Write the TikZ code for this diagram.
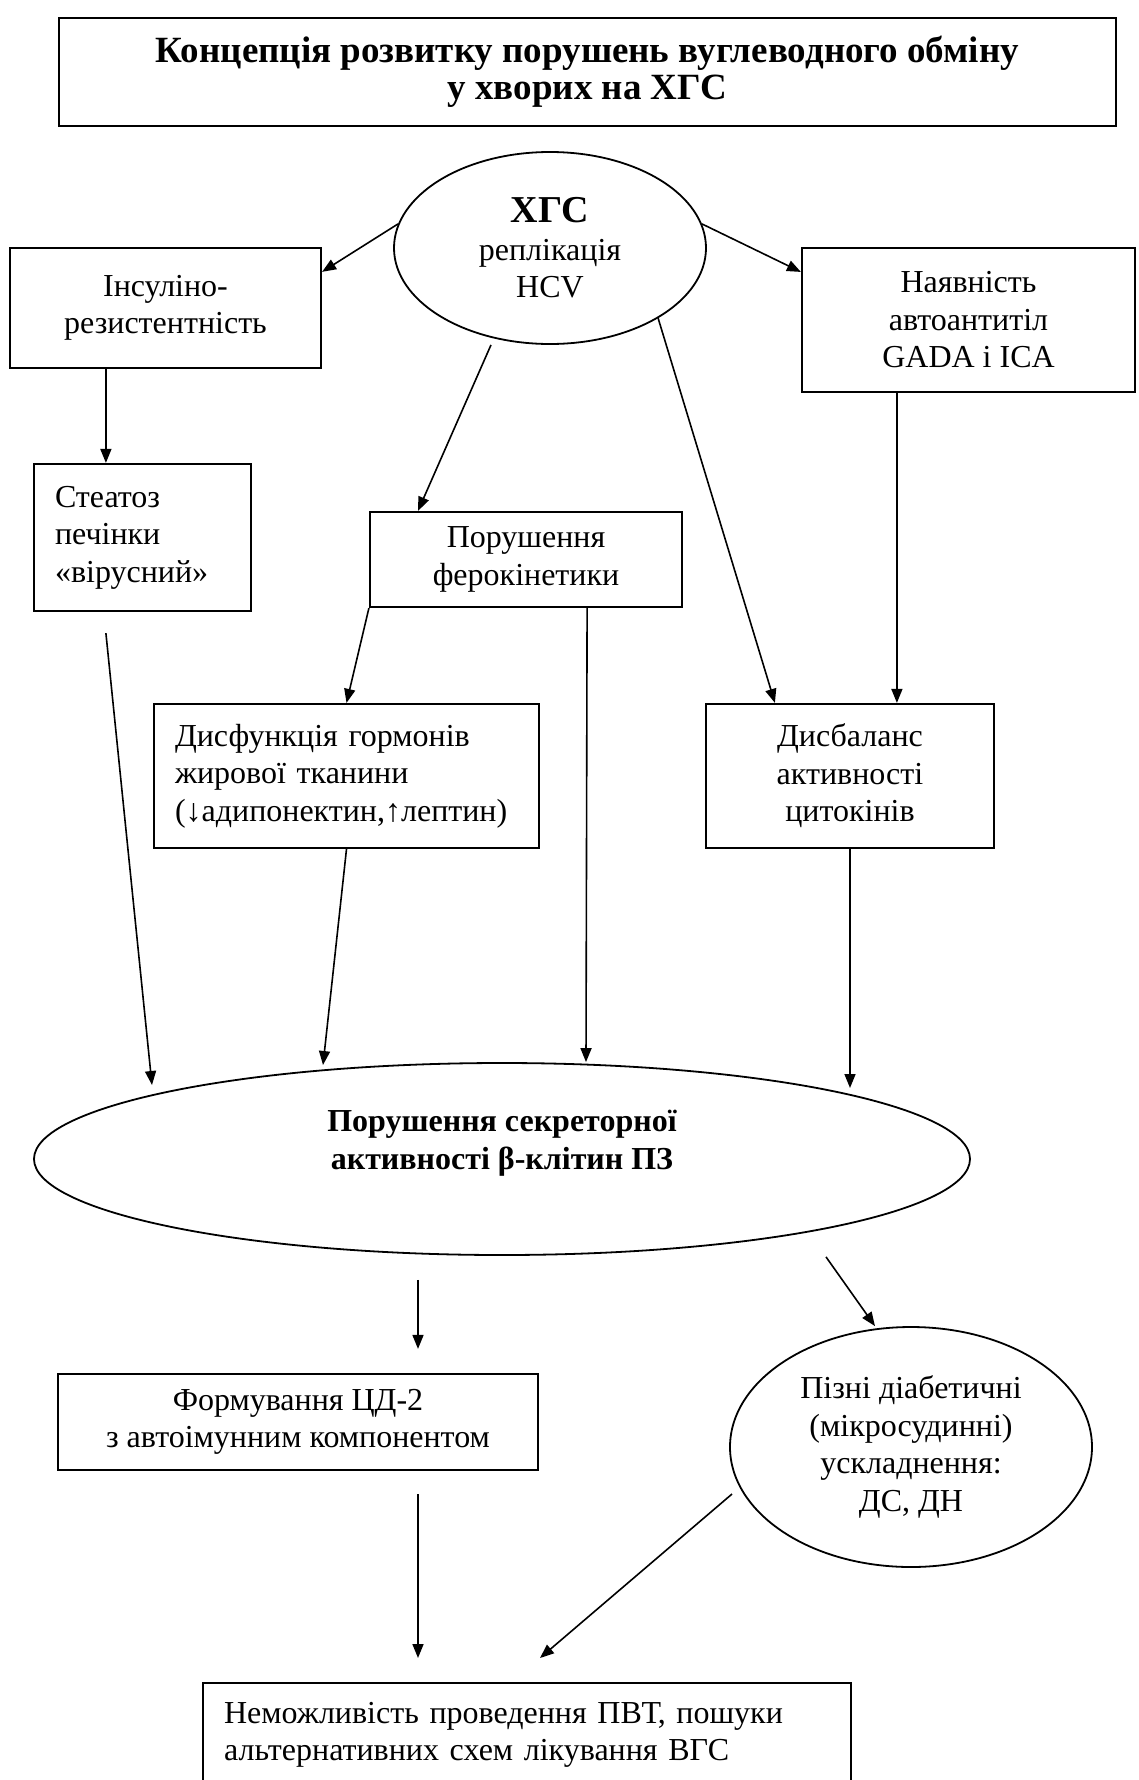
\documentclass[tikz,border=0pt]{standalone}
\usepackage{fontspec}
\setmainfont{Liberation Serif}
\usetikzlibrary{arrows.meta,calc,shapes.geometric}
\tikzset{
  txt/.style={font=\fontsize{32pt}{37.5pt}\selectfont},
  box/.style={txt,draw,rectangle,line width=2.2pt,inner sep=0pt,align=center},
  lbox/.style={box,align=left,inner xsep=21pt},
  oval/.style={txt,draw,ellipse,line width=1.8pt,inner sep=0pt,align=center}
}

\begin{document}
\begin{tikzpicture}[x=1pt,y=-1pt,->,>={Triangle[length=14pt,width=11pt]},line width=1.6pt]
  \useasboundingbox (0,0) rectangle (1138,1780);

  \node[box,minimum width=1057pt,minimum height=108pt,font=\fontsize{37pt}{37pt}\selectfont\bfseries] (title) at (587.5,72)
    {Концепція розвитку порушень вуглеводного обміну\\у хворих на ХГС};

  \node[oval,minimum width=312pt,minimum height=192pt] (hgs) at (550,248)
    {{\fontsize{38pt}{37.5pt}\selectfont\bfseries ХГС}\\реплікація\\HCV};
  \node[box,minimum width=311pt,minimum height=120pt] (insulin) at (165.5,308) {Інсуліно-\\резистентність};
  \node[box,minimum width=333pt,minimum height=144pt] (antib) at (968.5,320) {Наявність\\автоантитіл\\GADA і ICA};

  \node[lbox,text width=175pt,minimum height=147pt] (steat) at (142.5,537.5) {Стеатоз\\печінки\\«вірусний»};
  \node[box,minimum width=312pt,minimum height=95pt] (ferro) at (526,559.5) {Порушення\\ферокінетики};

  \node[lbox,text width=343pt,minimum height=144pt] (adipo) at (346.5,776)
    {Дисфункція гормонів\\жирової тканини\\(↓адипонектин,↑лептин)};
  \node[box,minimum width=288pt,minimum height=144pt] (cyto) at (850,776) {Дисбаланс\\активності\\цитокінів};

  \node[oval,minimum width=936pt,minimum height=192pt,font=\fontsize{32pt}{38pt}\selectfont\bfseries] (beta) at (502,1159)
    {Порушення секреторної\\активності β-клітин ПЗ\\\mbox{}};

  \node[box,minimum width=480pt,minimum height=96pt] (cd) at (298,1422) {Формування ЦД-2\\з автоімунним компонентом};
  \node[oval,minimum width=362pt,minimum height=240pt] (late) at (911,1447)
    {Пізні діабетичні\\(мікросудинні)\\ускладнення:\\ДС, ДН};

  \node[lbox,text width=606pt,inner ysep=19pt,anchor=north west] (pvt) at (202,1682)
    {Неможливість проведення ПВТ, пошуки\\альтернативних схем лікування ВГС\\\mbox{}};

  \path
    (hgs.171) edge (insulin.13)
    (hgs.9) edge (antib.164)
    ($(hgs.south)+(-59,0)$) edge ($(ferro.north)+(-108,0)$)
    (hgs.327) edge ($(cyto.north west)+(70,0)$)
    ($(insulin.south west)+(97,0)$) edge ($(steat.north west)+(73,0)$)
    ($(antib.south west)+(96,0)$) edge ($(cyto.north west)+(192,0)$)
    (ferro.south west) edge (adipo.north)
    ($(ferro.south east)+(-96,0)$) edge ($(beta.north)+(84,0)$)
    ($(steat.south west)+(73,21)$) edge ($(beta.center)+(-350,-74)$)
    (adipo.south) edge ($(beta.center)+(-179,-94)$)
    (cyto.south) edge ($(beta.center)+(348,-71)$)

    ($(beta.south)+(-84,24)$) edge ($(cd.north)+(120,-24)$)
    ($(beta.south)+(324,1)$) edge ($(late.north)+(-36,0)$)
    ($(cd.south)+(120,23)$) edge ($(pvt.north west)+(216,-24)$)
    ($(late.center)+(-179,47)$) edge ($(pvt.north west)+(338,-24)$)
    ;
\end{tikzpicture}
\end{document}
